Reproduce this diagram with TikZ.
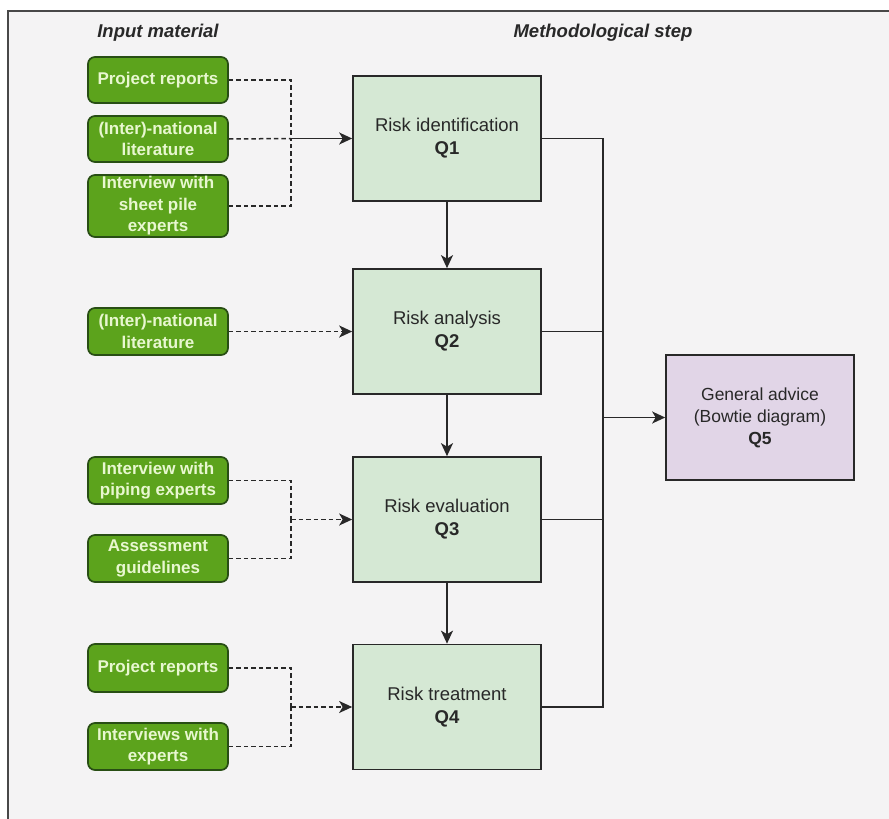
\documentclass[tikz,border=0pt]{standalone}
\usepackage{fontspec}
\setmainfont{Liberation Sans}
\usetikzlibrary{arrows.meta}

\definecolor{pagebg}{RGB}{244,243,244}
\definecolor{inputfill}{RGB}{92,163,28}
\definecolor{inputline}{RGB}{40,78,20}
\definecolor{inputtext}{RGB}{232,247,208}
\definecolor{stepfill}{RGB}{213,232,212}
\definecolor{advicefill}{RGB}{225,213,231}
\definecolor{ink}{RGB}{40,40,40}

\begin{document}
\begin{tikzpicture}[x=1pt,y=-1pt,
  inputbox/.style={draw=inputline, fill=inputfill, rounded corners=7pt,
    line width=1.7pt, text=inputtext, align=center, inner sep=0pt,
    minimum width=140pt, font=\fontsize{17}{21.5}\selectfont\bfseries},
  stepbox/.style={draw=ink, fill=stepfill, line width=1.7pt,
    minimum width=188pt, minimum height=125pt, text=ink, align=center,
    font=\fontsize{18.5}{23}\selectfont},
  advicebox/.style={stepbox, fill=advicefill, font=\fontsize{17.5}{22}\selectfont},
  heading/.style={text=ink, font=\fontsize{18.5}{22}\selectfont\bfseries\itshape},
  feed/.style={draw=ink, line width=1.5pt, dash pattern=on 4.5pt off 3pt},
  flow/.style={draw=ink, line width=1.6pt},
  tip/.style={-{Stealth[length=13pt,width=12pt,inset=3.5pt]}}
]
% page background and frame
\useasboundingbox (0,0) rectangle (889,819);
\fill[white] (0,0) rectangle (889,819);
\fill[pagebg] (8,11) rectangle (889,819);
\draw[line width=1.5pt, ink!85] (8,819) -- (8,11) -- (889,11);

% headings
\node[heading] (hin) at (158,33) {Input material};
\node[heading] (hstep) at (603,33) {Methodological step};

% methodological steps
\node[stepbox] (q1) at (447,138.5) {Risk identification\\\textbf{Q1}};
\node[stepbox] (q2) at (447,331.5) {Risk analysis\\\textbf{Q2}};
\node[stepbox] (q3) at (447,519.5) {Risk evaluation\\\textbf{Q3}};
\node[stepbox] (q4) at (447,707) {Risk treatment\\\textbf{Q4}};
\node[advicebox] (q5) at (760,417.5) {General advice\\(Bowtie diagram)\\\textbf{Q5}};

% input material
\node[inputbox, minimum height=46pt] (in1) at (158,80) {Project reports};
\node[inputbox, minimum height=46pt] (in2) at (158,139) {(Inter)-national\\literature};
\node[inputbox, minimum height=62pt] (in3) at (158,206) {Interview with\\sheet pile\\experts};
\node[inputbox, minimum height=47pt] (in4) at (158,331.5) {(Inter)-national\\literature};
\node[inputbox, minimum height=47pt] (in5) at (158,480.5) {Interview with\\piping experts};
\node[inputbox, minimum height=47pt] (in6) at (158,558.5) {Assessment\\guidelines};
\node[inputbox, minimum height=48pt] (in7) at (158,668) {Project reports};
\node[inputbox, minimum height=47pt] (in8) at (158,746.5) {Interviews with\\experts};

% junctions of the input feeds
\coordinate (j1) at (291,138.5);
\coordinate (j3) at (291,519.5);
\coordinate (j4) at (291,707);
\coordinate (bus) at (603,417.5);

% input feeds
\draw[feed] (in1.east) -| (j1);
\draw[feed] (in3.east) -| (j1);
\draw[feed] (in2.east) -- (j1);
\draw[flow, tip] (j1) -- (q1.west);
\draw[feed, tip] (in4.east) -- (q2.west);
\draw[feed] (in5.east) -| (j3);
\draw[feed] (in6.east) -| (j3);
\draw[feed, tip] (j3) -- (q3.west);
\draw[feed] (in7.east) -| (j4);
\draw[feed] (in8.east) -| (j4);
\draw[feed, tip] (j4) -- (q4.west);

% step sequence
\draw[flow, tip] (q1.south) -- (q2.north);
\draw[flow, tip] (q2.south) -- (q3.north);
\draw[flow, tip] (q3.south) -- (q4.north);

% collection towards the general advice
\draw[flow] (q1.east) -| (bus);
\draw[flow] (q4.east) -| (bus);
\draw[flow] (q2.east) -- (q2.east -| bus);
\draw[flow] (q3.east) -- (q3.east -| bus);
\draw[flow, tip] (bus) -- (q5.west);
\end{tikzpicture}
\end{document}
